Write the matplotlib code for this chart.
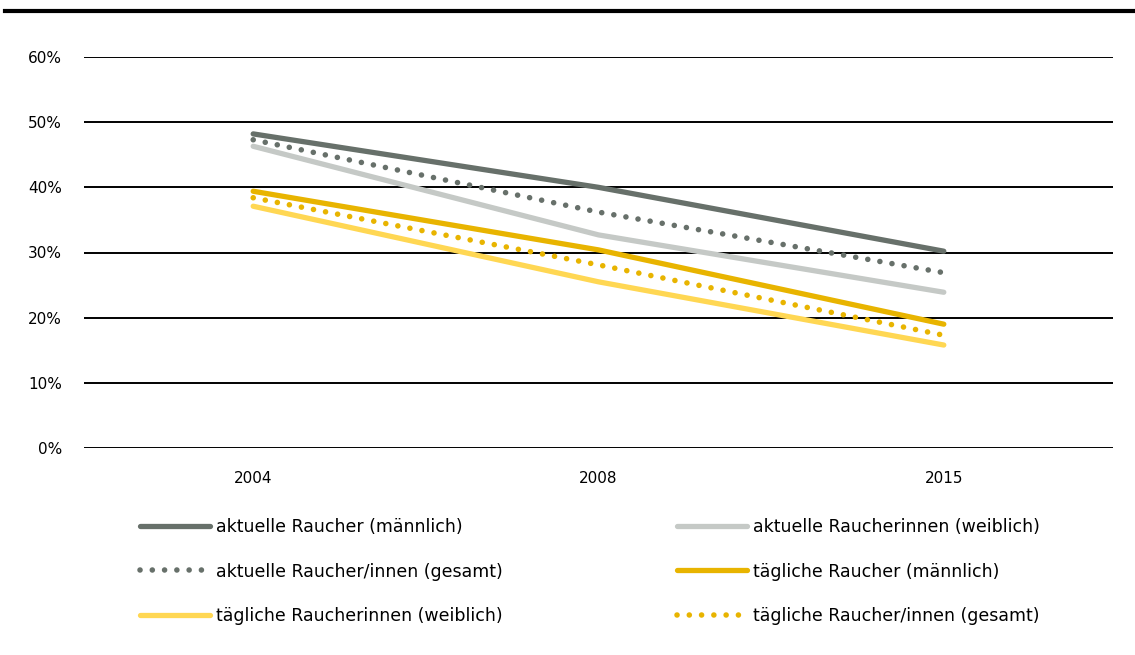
import numpy as np
import matplotlib.pyplot as plt
from matplotlib.lines import Line2D

years = ['2004', '2008', '2015']
aktuell_m = [48.2, 40.0, 30.2]
aktuell_w = [46.3, 32.7, 23.9]
aktuell_g = [47.3, 36.2, 26.9]
taeglich_m = [39.4, 30.4, 19.0]
taeglich_w = [37.1, 25.5, 15.8]
taeglich_g = [38.4, 28.1, 17.3]
yticks = [0, 10, 20, 30, 40, 50, 60]

dark = '#67706a'
light = '#c5c9c6'
gold = '#e8b400'
yellow = '#ffd753'
dots = (0, (0.01, 2.2))

fig = plt.figure(figsize=(11.35, 6.55), dpi=100)
ax = fig.add_axes([84 / 1135, 1 - 448 / 655, (1113 - 84) / 1135, (448 - 57) / 655])

x = np.arange(len(years))
series = [
    (aktuell_m, dark, '-', 'aktuelle Raucher (männlich)'),
    (aktuell_w, light, '-', 'aktuelle Raucherinnen (weiblich)'),
    (aktuell_g, dark, dots, 'aktuelle Raucher/innen (gesamt)'),
    (taeglich_m, gold, '-', 'tägliche Raucher (männlich)'),
    (taeglich_w, yellow, '-', 'tägliche Raucherinnen (weiblich)'),
    (taeglich_g, gold, dots, 'tägliche Raucher/innen (gesamt)'),
]
handles = {}
for vals, col, ls, lab in series:
    lw = 4.0 if ls == dots else 3.8
    ln, = ax.plot(x, vals, color=col, lw=lw, ls=ls, solid_capstyle='round',
                  dash_capstyle='round', label=lab, zorder=3)
    handles[lab] = ln

ax.set_xlim(-0.49, 2.49)
ax.set_ylim(0, 60)
ax.set_yticks(yticks)
ax.set_yticklabels([f'{v}%' for v in yticks], fontsize=11)
ax.set_xticks(x)
ax.set_xticklabels(years, fontsize=11)
ax.tick_params(axis='x', length=0, pad=16.5)
ax.tick_params(axis='y', length=0, pad=16)
for v in yticks:
    ax.axhline(v, color='black', lw=1.4, zorder=1)
for s in ax.spines.values():
    s.set_visible(False)

# top rule
fig.add_artist(Line2D([5 / 1135, 1], [1 - 11 / 655] * 2, color='black', lw=3))

left = ['aktuelle Raucher (männlich)', 'aktuelle Raucher/innen (gesamt)', 'tägliche Raucherinnen (weiblich)']
right = ['aktuelle Raucherinnen (weiblich)', 'tägliche Raucher (männlich)', 'tägliche Raucher/innen (gesamt)']
for names, xpos in [(left, 140), (right, 677)]:
    leg = fig.legend([handles[n] for n in names], names, loc='upper left',
                     bbox_to_anchor=(xpos / 1135, 1 - 518 / 655), frameon=False,
                     fontsize=12.5, handlelength=4.03, handletextpad=0.35,
                     labelspacing=1.53, borderpad=0, borderaxespad=0)

fig.savefig('out.png', dpi=100)
